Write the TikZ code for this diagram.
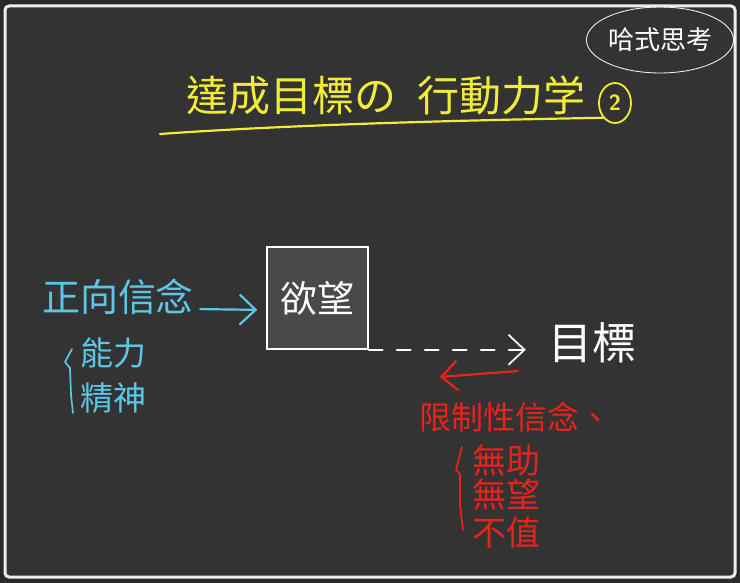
\documentclass[tikz,border=0pt]{standalone}
\usepackage{fontspec}
\newfontfamily\cjk{Noto Sans CJK TC}
\usetikzlibrary{positioning, arrows.meta, shapes.geometric}
\definecolor{outer}{HTML}{2A2A2A}
\definecolor{board}{HTML}{333333}
\definecolor{frame}{HTML}{EDEDED}
\definecolor{boxgrey}{HTML}{494949}
\definecolor{chalkyellow}{HTML}{F2EC38}
\definecolor{chalkblue}{HTML}{5CC6E6}
\definecolor{chalkred}{HTML}{E8231C}
\newcommand\chalksize[1]{\fontsize{#1}{#1}\selectfont}

\begin{document}
\begin{tikzpicture}[x=1pt, y=-1pt,
    txt/.style={inner sep=0pt, font=\cjk},
    chalk/.style={line width=2.2pt, line cap=round, line join=round},
    >={Straight Barb[length=16pt, width=30pt]}]
  \useasboundingbox (0,0) rectangle (740,583);
  \fill[outer] (0,0) rectangle (740,583);
  \draw[line width=3pt, draw=frame, fill=board, rounded corners=4pt] (5,6) rectangle (735,577);

  % title
  \node[txt, text=chalkyellow, font=\cjk\chalksize{42}] (title) at (386,95) {達成目標の\hspace{22pt}行動力学};
  \node[draw=chalkyellow, ellipse, line width=1.8pt, minimum width=32pt, minimum height=40pt,
        inner sep=0pt, text=chalkyellow, font=\sffamily\bfseries\chalksize{22}] (part) at (615,103) {2};
  \draw[chalk, chalkyellow] (160,134) .. controls (300,124) and (480,120) .. (part.south west);
  \node[txt, draw=frame, ellipse, line width=0.9pt, minimum width=144pt, minimum height=66pt,
        text=white, font=\cjk\chalksize{26}] (brand) at (660,40) {哈式思考};

  % desire
  \node[draw=white, fill=boxgrey, line width=1.5pt, minimum width=101pt, minimum height=102pt,
        inner sep=0pt, text=white, font=\cjk\chalksize{37}] (desire) at (317.5,298) {欲望};
  \node[txt, text=chalkblue, font=\cjk\chalksize{38}] (pos) at (118,297) {正向信念};
  \node[txt, text=chalkblue, font=\cjk\chalksize{33}] (ability) at (113,353) {能力};
  \node[txt, text=chalkblue, font=\cjk\chalksize{33}, below=14pt of ability] (spirit) {精神};
  \draw[chalk, chalkblue, line width=1.7pt] (72,349) -- (65,362) -- (70,368) -- (71,395) -- (73,413);

  \path[->, chalk, chalkblue, shorten <=6pt, shorten >=9pt]
    ([yshift=-12pt]pos.east) edge ([yshift=-12pt]desire.west);

  % goal
  \node[txt, text=white, font=\cjk\chalksize{44}] (goal) at (592,343) {目標};
  \draw[->, chalk, white, line width=1.8pt, dash pattern=on 14pt off 14pt, shorten >=22pt]
    (desire.south east) -- (desire.south east -| goal.west);

  % limiting beliefs
  \coordinate (limR) at (518,371);
  \coordinate (limL) at (440,377);
  \draw[->, chalk, chalkred] (limR) -- (limL);
  \node[txt, text=chalkred, font=\cjk\chalksize{32}] (limit) at (515,417) {限制性信念、};
  \node[txt, text=chalkred, font=\cjk\chalksize{34}] (helpless) at (506,460) {無助};
  \node[txt, text=chalkred, font=\cjk\chalksize{34}, below=3pt of helpless] (hopeless) {無望};
  \node[txt, text=chalkred, font=\cjk\chalksize{34}, below=6pt of hopeless] (worthless) {不值};
  \draw[chalk, chalkred, line width=1.7pt] (462,447) -- (456,470) -- (460,474) -- (460,505) -- (463,530);
\end{tikzpicture}
\end{document}
